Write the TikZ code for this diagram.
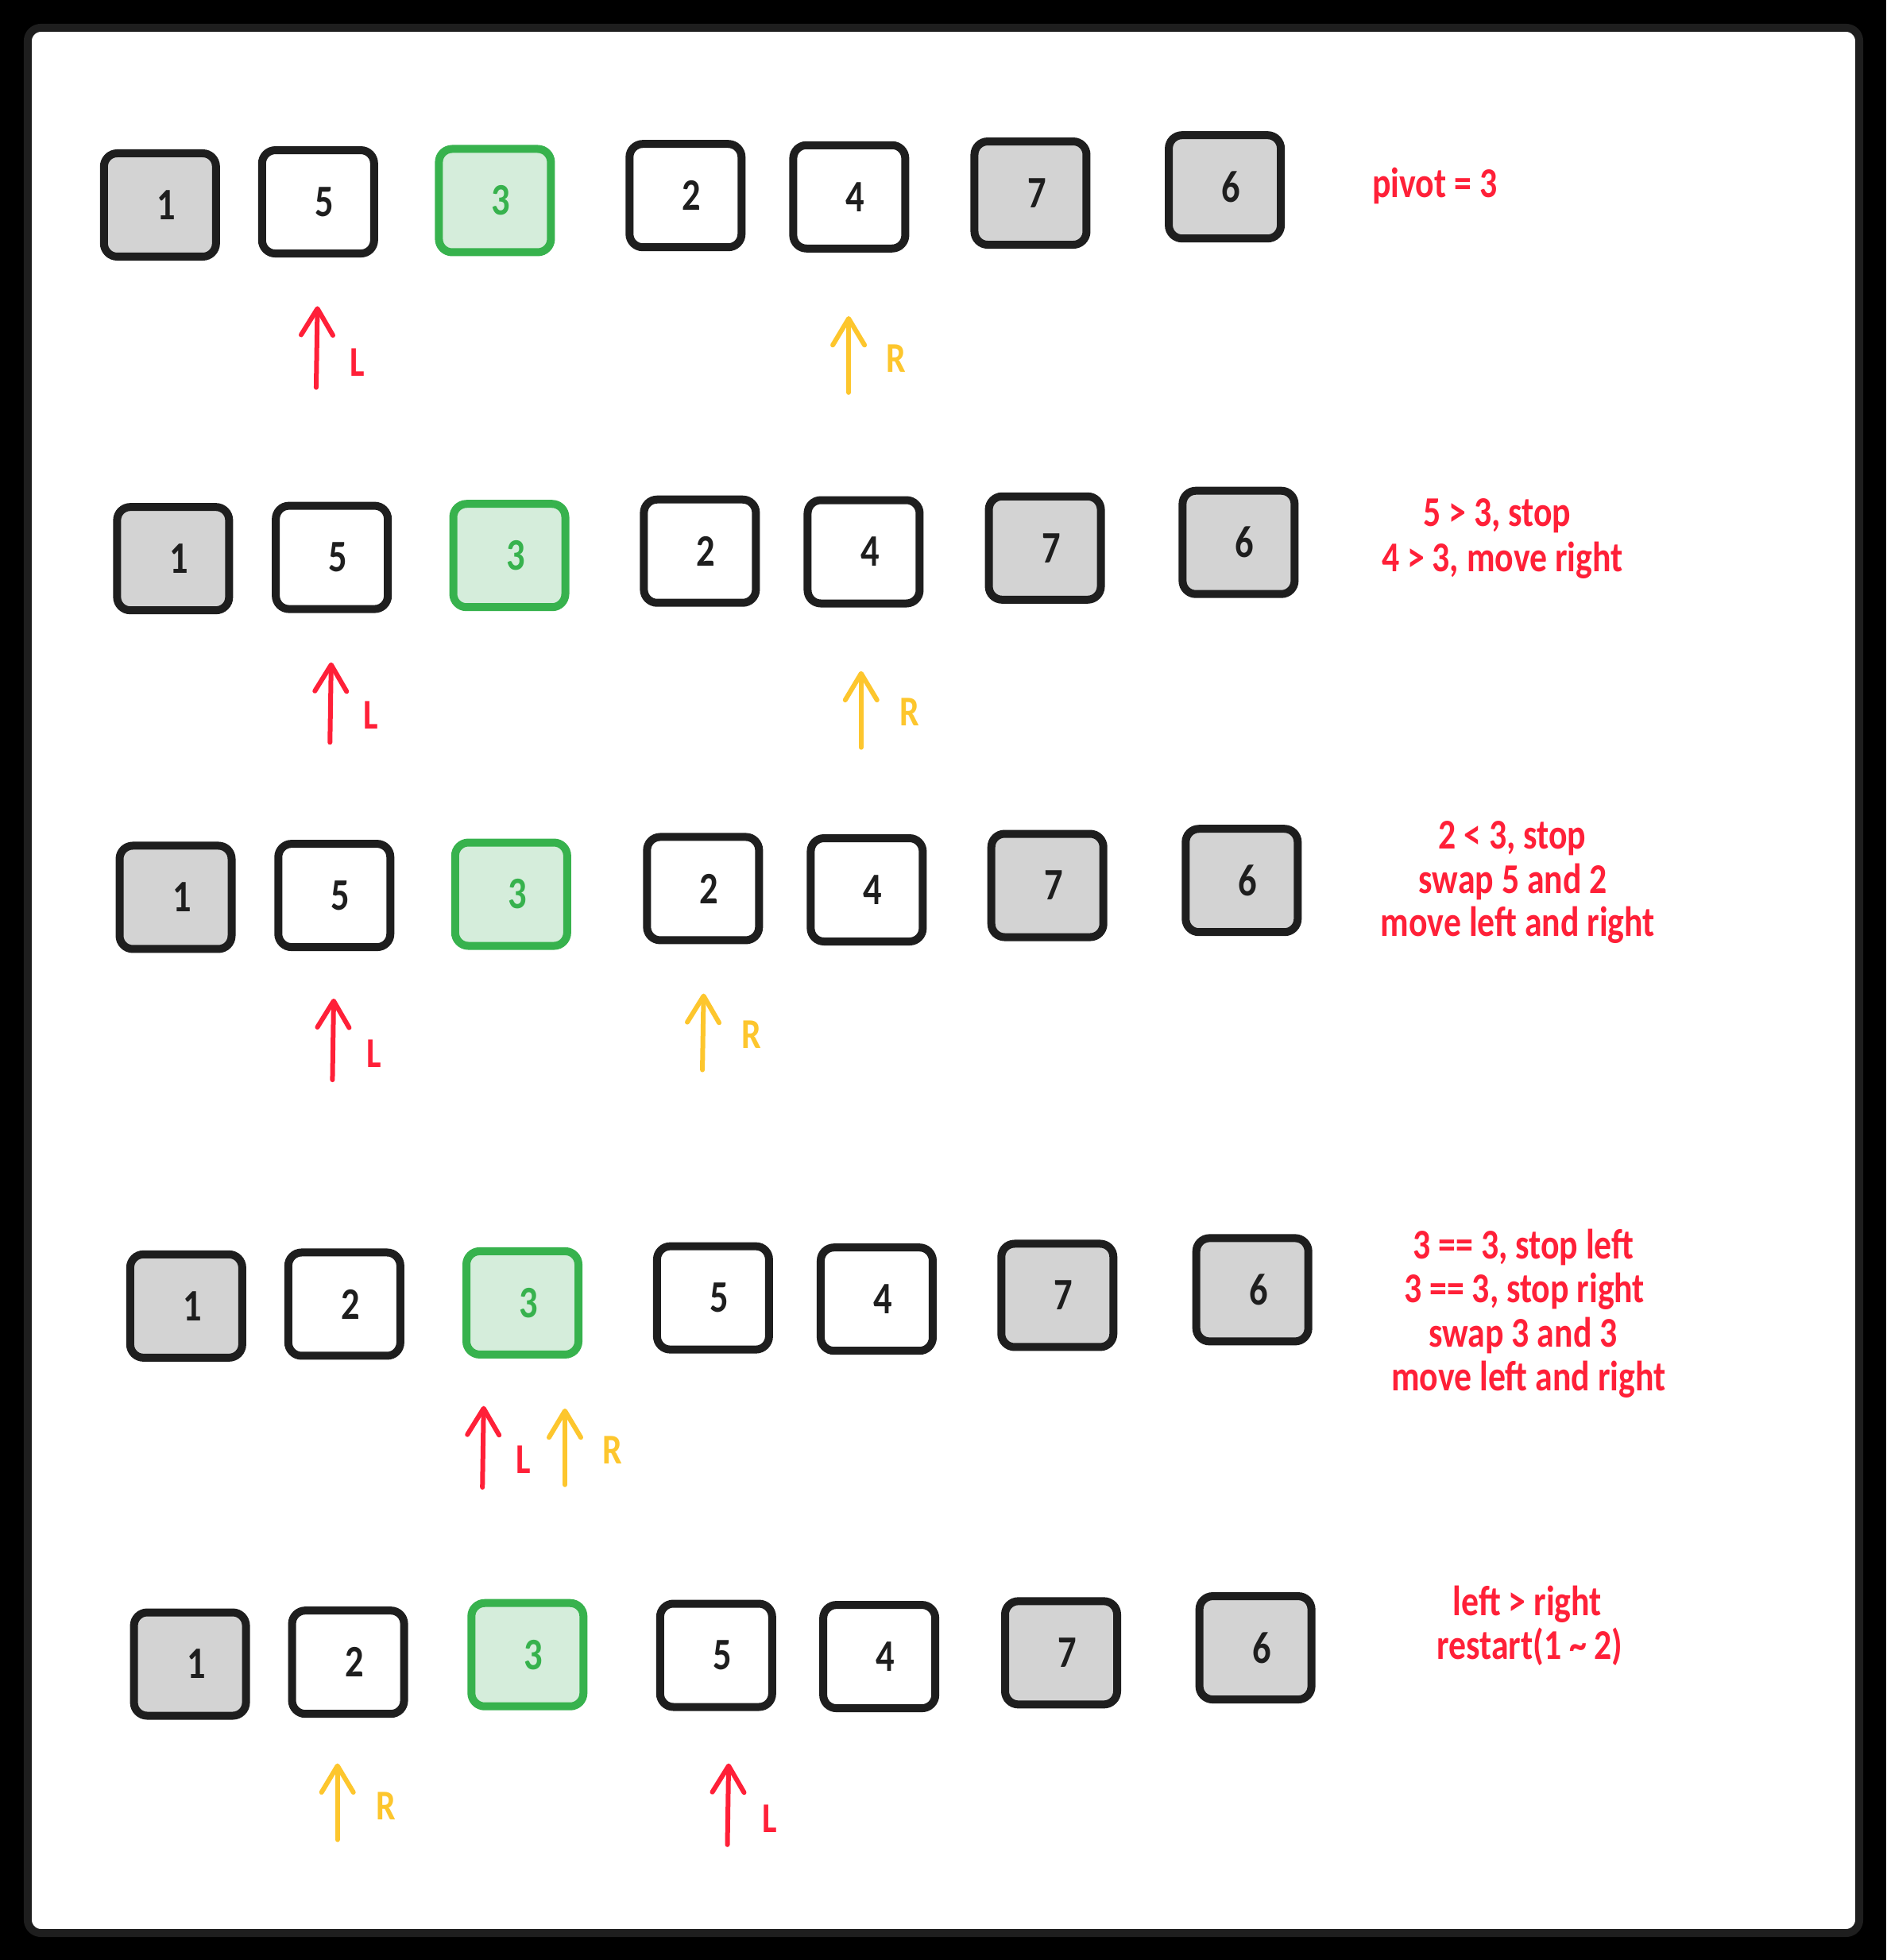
\documentclass[tikz,border=0pt]{standalone}
\usepackage{fontspec}
\setmainfont{Carlito}
\newfontfamily\hand[FakeStretch=0.82]{Carlito}
\usetikzlibrary{arrows.meta}
\definecolor{ink}{RGB}{30,30,30}
\definecolor{greyfill}{RGB}{211,211,211}
\definecolor{greenstroke}{RGB}{55,178,77}
\definecolor{greenfill}{RGB}{213,237,219}
\definecolor{redink}{RGB}{255,32,56}
\definecolor{yellowink}{RGB}{253,198,45}
\begin{document}
\begin{tikzpicture}[x=0.4719pt,y=-0.4719pt,
  cell/.style={rectangle, rounded corners=5pt, draw=ink, line width=3pt,
    minimum width=42.3pt, minimum height=39pt, inner sep=0pt,
    font=\hand\bfseries\fontsize{17}{17}\selectfont, text=ink,
    execute at begin node={\hspace*{4.7pt}}},
  graycell/.style={cell, fill=greyfill},
  whitecell/.style={cell, fill=white},
  pivotcell/.style={cell, draw=greenstroke, fill=greenfill, text=greenstroke},
  note/.style={text=redink, font=\hand\bfseries\fontsize{16}{17}\selectfont,
    anchor=base, inner sep=0pt},
  ptr/.style={line width=1.8pt, line cap=round,
    -{Straight Barb[length=10pt,width=12pt,round]}},
  lptr/.style={ptr, draw=redink},
  rptr/.style={ptr, draw=yellowink},
  lbl/.style={font=\hand\bfseries\fontsize{16}{16}\selectfont, inner sep=0pt},
  llbl/.style={lbl, text=redink},
  rlbl/.style={lbl, text=yellowink},
]
\useasboundingbox (0,0) rectangle (1509.2,1568.3);
\fill[black] (0,0) rectangle (1509.2,1568.3);
\draw[ink, fill=white, line width=3pt, rounded corners=5pt] (22.2,22.2) rectangle (1487.6,1546.7);

% ---- row 1
\node[graycell]  (b11) at (128,164)     {1};
\node[whitecell] (b12) at (254.5,161.5) {5};
\node[pivotcell] (b13) at (396,160.5)   {3};
\node[whitecell] (b14) at (548.5,156.5) {2};
\node[whitecell] (b15) at (679.5,157.5) {4};
\node[graycell]  (b16) at (824.5,154.5) {7};
\node[graycell]  (b17) at (980,149.5)   {6};
\node[note] (t1a) at (1148,158) {pivot = 3};
\coordinate (l1s) at (253,310); \coordinate (l1e) at (254,245);
\coordinate (r1s) at (679,314); \coordinate (r1e) at (679,253);
\draw[lptr] (l1s) -- (l1e);
\draw[rptr] (r1s) -- (r1e);
\node[llbl] (ll1) at (286,290) {L};
\node[rlbl] (rl1) at (717,287) {R};

% ---- row 2
\node[graycell]  (b21) at (138.5,447)   {1};
\node[whitecell] (b22) at (265.5,446)   {5};
\node[pivotcell] (b23) at (407.5,444.5) {3};
\node[whitecell] (b24) at (560,441)     {2};
\node[whitecell] (b25) at (691,441.5)   {4};
\node[graycell]  (b26) at (836,438.5)   {7};
\node[graycell]  (b27) at (991,434)     {6};
\node[note] (t2a) at (1198,421)   {5 > 3, stop};
\node[note] (t2b) at (1202,457.5) {4 > 3, move right};
\coordinate (l2s) at (264,594); \coordinate (l2e) at (265,530);
\coordinate (r2s) at (689,598); \coordinate (r2e) at (689,537);
\draw[lptr] (l2s) -- (l2e);
\draw[rptr] (r2s) -- (r2e);
\node[llbl] (ll2) at (297,572) {L};
\node[rlbl] (rl2) at (728,570) {R};

% ---- row 3
\node[graycell]  (b31) at (140.5,718)   {1};
\node[whitecell] (b32) at (267.5,716.5) {5};
\node[pivotcell] (b33) at (409,715.5)   {3};
\node[whitecell] (b34) at (562.5,711)   {2};
\node[whitecell] (b35) at (693.5,712)   {4};
\node[graycell]  (b36) at (838,708.5)   {7};
\node[graycell]  (b37) at (993.5,704.5) {6};
\node[note] (t3a) at (1210,679)   {2 < 3, stop};
\node[note] (t3b) at (1210.5,715) {swap 5 and 2};
\node[note] (t3c) at (1214.5,749) {move left and right};
\coordinate (l3s) at (266,864); \coordinate (l3e) at (267,799);
\coordinate (r3s) at (562,856); \coordinate (r3e) at (563,795);
\draw[lptr] (l3s) -- (l3e);
\draw[rptr] (r3s) -- (r3e);
\node[llbl] (ll3) at (299,843) {L};
\node[rlbl] (rl3) at (601,828) {R};

% ---- row 4
\node[graycell]  (b41) at (149,1045)     {1};
\node[whitecell] (b42) at (275.5,1043.5) {2};
\node[pivotcell] (b43) at (418,1042.5)   {3};
\node[whitecell] (b44) at (570.5,1038.5) {5};
\node[whitecell] (b45) at (701.5,1039.5) {4};
\node[graycell]  (b46) at (846,1036.5)   {7};
\node[graycell]  (b47) at (1002,1032)    {6};
\node[note] (t4a) at (1219,1007)    {3 == 3, stop left};
\node[note] (t4b) at (1219.7,1042.5) {3 == 3, stop right};
\node[note] (t4c) at (1218.7,1077.6) {swap 3 and 3};
\node[note] (t4d) at (1223,1113)    {move left and right};
\coordinate (l4s) at (386,1190); \coordinate (l4e) at (387,1125);
\coordinate (r4s) at (452,1188); \coordinate (r4e) at (452,1127);
\draw[lptr] (l4s) -- (l4e);
\draw[rptr] (r4s) -- (r4e);
\node[llbl] (ll4) at (419,1168) {L};
\node[rlbl] (rl4) at (490,1160) {R};

% ---- row 5
\node[graycell]  (b51) at (152,1331.5)   {1};
\node[whitecell] (b52) at (278.5,1330)   {2};
\node[pivotcell] (b53) at (422,1324)     {3};
\node[whitecell] (b54) at (573,1324.5)   {5};
\node[whitecell] (b55) at (703.5,1325.5) {4};
\node[graycell]  (b56) at (849,1322.5)   {7};
\node[graycell]  (b57) at (1004.5,1318.5) {6};
\node[note] (t5a) at (1222,1293)   {left > right};
\node[note] (t5b) at (1224,1327.5) {restart(1 \char`~{} 2)};
\coordinate (r5s) at (270,1472); \coordinate (r5e) at (270,1411);
\coordinate (l5s) at (582,1476); \coordinate (l5e) at (583,1411);
\draw[rptr] (r5s) -- (r5e);
\draw[lptr] (l5s) -- (l5e);
\node[rlbl] (rl5) at (309,1445) {R};
\node[llbl] (ll5) at (616,1455) {L};
\end{tikzpicture}
\end{document}
